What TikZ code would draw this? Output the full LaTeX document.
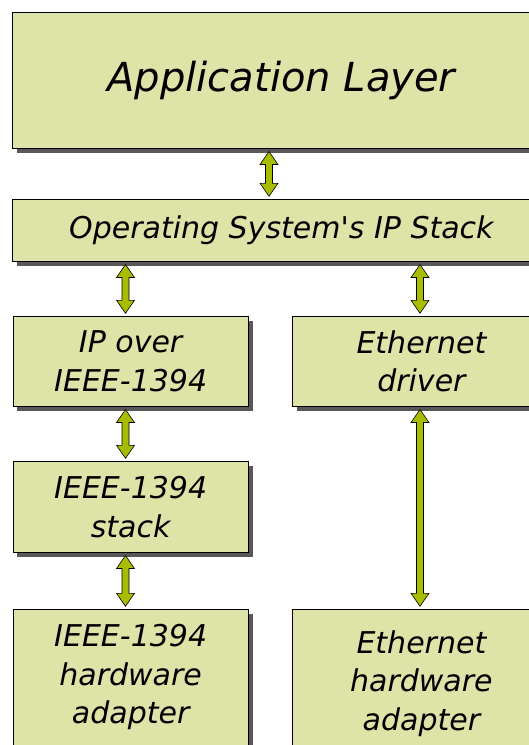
\documentclass[tikz,border=0pt]{standalone}
\usepackage{fontspec}
\setmainfont{DejaVu Sans}[Ligatures=TeXOff]
\usetikzlibrary{calc,shadows}
\definecolor{boxfill}{HTML}{DEE3A7}
\definecolor{arrfill}{HTML}{A9BC00}
\definecolor{shadowgray}{HTML}{585858}
\begin{document}
\begin{tikzpicture}[x=1pt,y=-1pt,
  layer/.style={draw=black, line width=0.8pt, fill=boxfill, anchor=north west,
    inner sep=0pt, align=center, font=\itshape\fontsize{30}{38.5}\selectfont,
    drop shadow={shadow xshift=4.5pt, shadow yshift=-4.5pt, fill=shadowgray, opacity=1}},
  dblarrow/.style={draw=black, line width=0.6pt, fill=arrfill, line join=miter,
    to path={let \p1=(\tikztostart), \p2=(\tikztotarget) in
      (\x1,\y1-2.7pt) -- (\x1+9pt,\y1-15.7pt) -- (\x1+3.5pt,\y1-15.7pt)
      -- (\x1+3.5pt,\y2+15.7pt) -- (\x1+9pt,\y2+15.7pt) -- (\x1,\y2+2.7pt)
      -- (\x1-9pt,\y2+15.7pt) -- (\x1-3.5pt,\y2+15.7pt) -- (\x1-3.5pt,\y1-15.7pt)
      -- (\x1-9pt,\y1-15.7pt) -- cycle}}]
\useasboundingbox (0,0) rectangle (529,745);
\clip (0,0) rectangle (529,745);
\fill[white] (0,0) rectangle (529,745);

\coordinate (cM) at (269,0);
\coordinate (cL) at (125.5,0);
\coordinate (cR) at (420,0);

\node[layer, minimum width=538pt, minimum height=136pt] (app) at (12,12)
  {\fontsize{40}{48}\selectfont Application Layer};
\node[layer, minimum width=538pt, minimum height=62pt] (os) at (12,199)
  {Operating System's IP Stack};
\node[layer, minimum width=235.5pt, minimum height=90pt] (ip) at (12.5,316)
  {IP over\\IEEE-1394};
\node[layer, minimum width=258pt, minimum height=90pt] (eth) at (292,316)
  {Ethernet\\driver};
\node[layer, minimum width=235.5pt, minimum height=91pt] (stack) at (12.5,461)
  {IEEE-1394\\stack};
\node[layer, minimum width=235.5pt, minimum height=136pt] (hwa) at (12.5,609)
  {IEEE-1394\\hardware\\adapter};
\node[layer, minimum width=258pt, minimum height=148pt] (hwb) at (292,609)
  {Ethernet\\hardware\\adapter};

\draw[dblarrow] (app.south -| cM) to (os.north -| cM);
\draw[dblarrow] (os.south -| cL) to (ip.north -| cL);
\draw[dblarrow] (os.south -| cR) to (eth.north -| cR);
\draw[dblarrow] (ip.south -| cL) to (stack.north -| cL);
\draw[dblarrow] (stack.south -| cL) to (hwa.north -| cL);
\draw[dblarrow] (eth.south -| cR) to (hwb.north -| cR);
\end{tikzpicture}
\end{document}
